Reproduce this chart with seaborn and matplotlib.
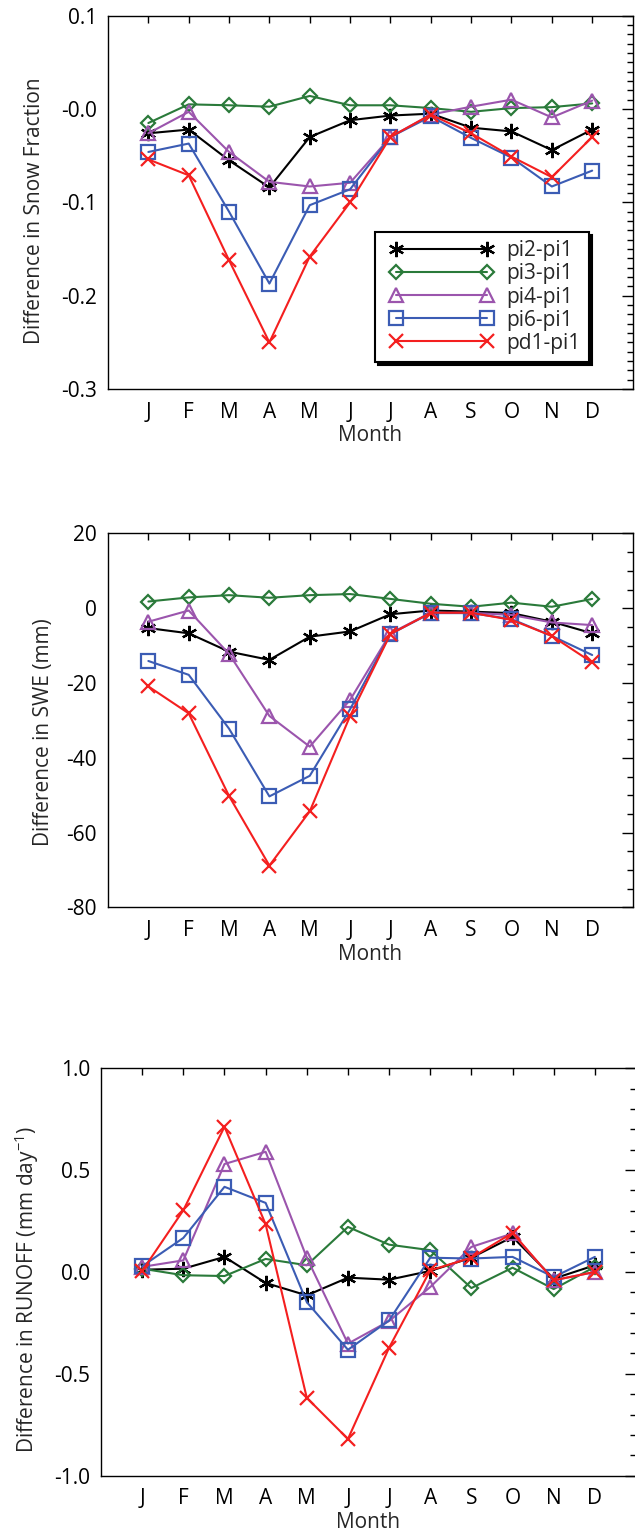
import numpy as np
import pandas as pd
import matplotlib
matplotlib.use("Agg")
import matplotlib.pyplot as plt
from matplotlib.lines import Line2D
from matplotlib.legend_handler import HandlerLine2D
from matplotlib.ticker import MultipleLocator, FixedLocator, FixedFormatter
import seaborn as sns

# ---- data -----------------------------------------------------------------
months = ["J", "F", "M", "A", "M", "J", "J", "A", "S", "O", "N", "D"]
month_idx = list(range(1, 13))
series = ["pi2-pi1", "pi3-pi1", "pi4-pi1", "pi6-pi1", "pd1-pi1"]

# Snow fraction differences
sf_pi2 = [-0.026, -0.022, -0.055, -0.084, -0.030, -0.012, -0.007, -0.005, -0.020, -0.024, -0.044, -0.022]
sf_pi3 = [-0.015, 0.005, 0.004, 0.0025, 0.014, 0.004, 0.004, 0.001, -0.003, 0.001, 0.002, 0.006]
sf_pi4 = [-0.026, -0.003, -0.046, -0.078, -0.083, -0.079, -0.030, -0.006, 0.0025, 0.010, -0.009, 0.009]
sf_pi6 = [-0.046, -0.037, -0.110, -0.187, -0.103, -0.086, -0.030, -0.008, -0.031, -0.052, -0.083, -0.066]
sf_pd1 = [-0.054, -0.071, -0.162, -0.250, -0.158, -0.100, -0.030, -0.006, -0.026, -0.051, -0.073, -0.030]

# Snow water equivalent differences (mm)
swe_pi2 = [-5.3, -6.7, -11.6, -13.8, -7.6, -6.2, -1.6, -0.6, -0.9, -1.3, -3.6, -6.7]
swe_pi3 = [1.8, 2.9, 3.5, 2.8, 3.5, 3.8, 2.5, 1.2, 0.4, 1.5, 0.4, 2.5]
swe_pi4 = [-3.6, -0.6, -12.2, -28.8, -37.0, -24.5, -6.7, -1.2, -1.2, -1.8, -3.8, -4.5]
swe_pi6 = [-14.1, -17.8, -32.2, -50.3, -44.8, -27.0, -6.9, -1.3, -1.3, -2.9, -7.4, -12.5]
swe_pd1 = [-20.9, -28.1, -50.2, -68.8, -54.3, -28.8, -6.9, -1.2, -1.2, -3.1, -7.4, -14.5]

# Runoff differences (mm/day)
ro_pi2 = [0.011, 0.016, 0.074, -0.054, -0.115, -0.028, -0.038, 0.005, 0.070, 0.172, -0.033, 0.033]
ro_pi3 = [0.016, -0.016, -0.020, 0.064, 0.033, 0.221, 0.134, 0.107, -0.079, 0.021, -0.084, 0.025]
ro_pi4 = [0.025, 0.057, 0.530, 0.590, 0.070, -0.352, -0.241, -0.074, 0.123, 0.189, -0.041, 0.000]
ro_pi6 = [0.028, 0.167, 0.418, 0.339, -0.148, -0.382, -0.238, 0.070, 0.066, 0.074, -0.025, 0.074]
ro_pd1 = [0.005, 0.303, 0.713, 0.234, -0.618, -0.820, -0.372, 0.008, 0.070, 0.192, -0.041, 0.000]

sf_ticks = [0.1, 0.0, -0.1, -0.2, -0.3]
sf_ticklabels = ["0.1", "-0.0", "-0.1", "-0.2", "-0.3"]
swe_ticks = [20, 0, -20, -40, -60, -80]
swe_ticklabels = ["20", "0", "-20", "-40", "-60", "-80"]
ro_ticks = [1.0, 0.5, 0.0, -0.5, -1.0]
ro_ticklabels = ["1.0", "0.5", "0.0", "-0.5", "-1.0"]

# ---- style ----------------------------------------------------------------
sns.set_style("white")
plt.rcParams["font.family"] = ["Open Sans", "DejaVu Sans"]
plt.rcParams["mathtext.fontset"] = "custom"
plt.rcParams["mathtext.rm"] = "Open Sans"
plt.rcParams["mathtext.default"] = "regular"
plt.rcParams["axes.edgecolor"] = "black"
plt.rcParams["axes.linewidth"] = 1.0

colors = {
    "pi2-pi1": "#000000",
    "pi3-pi1": "#2a7a3a",
    "pi4-pi1": "#9b55ad",
    "pi6-pi1": "#3b5cb4",
    "pd1-pi1": "#f41f1f",
}
markers = {
    "pi2-pi1": (6, 2, 0),
    "pi3-pi1": "D",
    "pi4-pi1": "^",
    "pi6-pi1": "s",
    "pd1-pi1": "x",
}
msizes = {
    "pi2-pi1": 11,
    "pi3-pi1": 7.5,
    "pi4-pi1": 10,
    "pi6-pi1": 9.5,
    "pd1-pi1": 9.5,
}

FS = 15

fig = plt.figure(figsize=(6.35, 15.36), dpi=100)
ax1 = fig.add_axes([0.1701, 0.7467, 0.8260, 0.2431])
ax2 = fig.add_axes([0.1701, 0.4092, 0.8260, 0.2435])
ax3 = fig.add_axes([0.1591, 0.0393, 0.8425, 0.2652])


def draw_panel(ax, values, ylim, ticks, ticklabels, minor, ylabel, label_y, label_x):
    df = pd.DataFrame({"month": month_idx * len(series),
                       "value": np.concatenate(values),
                       "run": np.repeat(series, 12)})
    for name in series:
        sub = df[df["run"] == name]
        sns.lineplot(data=sub, x="month", y="value", ax=ax, color=colors[name],
                     marker=markers[name], markersize=msizes[name],
                     markerfacecolor="none", markeredgecolor=colors[name],
                     markeredgewidth=1.6, linewidth=1.5, label=name,
                     errorbar=None, sort=False)
    ax.set_xlim(0, 13)
    ax.set_ylim(*ylim)
    ax.xaxis.set_major_locator(FixedLocator(month_idx))
    ax.xaxis.set_major_formatter(FixedFormatter(months))
    ax.yaxis.set_major_locator(FixedLocator(ticks))
    ax.yaxis.set_major_formatter(FixedFormatter(ticklabels))
    ax.yaxis.set_minor_locator(MultipleLocator(minor))
    ax.tick_params(axis="both", which="both", direction="in", top=True, right=True,
                   labelsize=FS, colors="black", width=1.0)
    ax.tick_params(axis="x", which="major", length=5, pad=9)
    ax.tick_params(axis="y", which="major", length=8, pad=8)
    ax.tick_params(axis="y", which="minor", length=4)
    ax.set_xlabel("Month", fontsize=FS, labelpad=2)
    ax.set_ylabel(ylabel, fontsize=FS)
    ax.yaxis.set_label_coords(label_x, label_y)
    for sp in ax.spines.values():
        sp.set_visible(True)
        sp.set_color("black")
        sp.set_linewidth(1.0)
    if ax.get_legend() is not None:
        ax.get_legend().remove()


draw_panel(ax1, [sf_pi2, sf_pi3, sf_pi4, sf_pi6, sf_pd1], (-0.3, 0.1),
           sf_ticks, sf_ticklabels, 0.01, "Difference in Snow Fraction", 0.477, -0.12)
draw_panel(ax2, [swe_pi2, swe_pi3, swe_pi4, swe_pi6, swe_pd1], (-80, 20),
           swe_ticks, swe_ticklabels, 5, "Difference in SWE (mm)", 0.47, -0.103)
draw_panel(ax3, [ro_pi2, ro_pi3, ro_pi4, ro_pi6, ro_pd1], (-1.0, 1.0),
           ro_ticks, ro_ticklabels, 0.1, "Difference in RUNOFF (mm day$^{-1}$)", 0.456, -0.112)

handles, labels = ax1.get_legend_handles_labels()
leg = ax1.legend(handles, labels, loc="upper left", bbox_to_anchor=(0.509, 0.4206),
                 handler_map={Line2D: HandlerLine2D(marker_pad=0.6, numpoints=2)},
                 handlelength=5.6, fontsize=FS, frameon=True,
                 fancybox=False, edgecolor="black", framealpha=1.0,
                 shadow={"color": "black", "alpha": 1.0},
                 borderpad=0.4, labelspacing=0.1, handletextpad=0.3,
                 borderaxespad=0.0)
leg.get_frame().set_linewidth(1.5)

fig.savefig("out.png", dpi=100, facecolor="white")
